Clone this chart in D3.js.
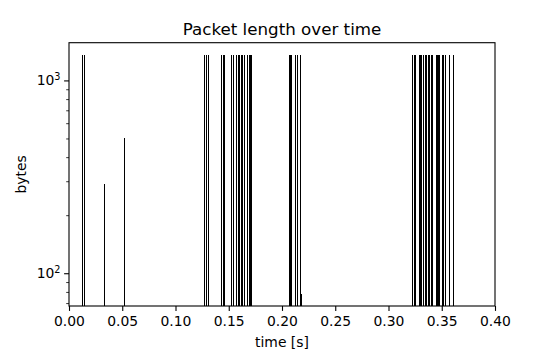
<!DOCTYPE html>
<html><head><meta charset="utf-8">
<script src="https://cdn.jsdelivr.net/npm/d3@7"></script>
<style>
body{margin:0;background:#fff;}
text{font-family:"DejaVu Sans",sans-serif;fill:#000;}
</style></head>
<body>
<svg id="chart" width="550" height="350"></svg>
<script>
const times = [0.0122,0.0141,0.0331,0.0519,
 0.1263,0.1286,0.1305,0.1427,0.1446,0.1460,
 0.1524,0.1543,0.1571,0.1584,0.1596,0.1612,0.1627,0.1646,0.1671,0.1690,0.1700,0.1709,
 0.2068,0.2077,0.2089,0.2122,0.2144,0.2169,0.2178,
 0.3224,0.3237,0.3249,0.3284,0.3296,0.3308,0.3321,0.3340,0.3352,0.3371,0.3383,0.3396,0.3411,
 0.3446,0.3455,0.3465,0.3474,0.3502,0.3516,0.3531,0.3571,0.3606];
const lengths = [1360,1360,291,505,
 1360,1360,1360,1360,1360,1360,
 1360,1360,1360,1360,1360,1360,1360,1360,1360,1360,1360,1360,
 1360,1360,1360,1360,1360,1360,78,
 1360,1360,1360,1360,1360,1360,1360,1360,1360,1360,1360,1360,1360,
 1360,1360,1360,1360,1360,1360,1360,1360,1360];
const xTicks = [0,0.05,0.10,0.15,0.20,0.25,0.30,0.35,0.40];
const yMajorTicks = [100,1000];
const yMinorTicks = [70,80,90,200,300,400,500,600,700,800,900];

const svg = d3.select("#chart");
const L=69, T=42.7, W=426, H=263.3;
const x = d3.scaleLinear().domain([0,0.4]).range([L,L+W]);
const lmin = Math.log10(d3.min(lengths)), lmax = Math.log10(d3.max(lengths));
const pad = (lmax-lmin)*0.05;
const y = d3.scaleLog().domain([Math.pow(10,lmin-pad),Math.pow(10,lmax+pad)]).range([T+H,T]);

// lines
svg.append("g").selectAll("line").data(times).join("line")
  .attr("x1",(d)=>Math.round(x(d))+0.5).attr("x2",(d)=>Math.round(x(d))+0.5)
  .attr("y1",T+H).attr("y2",(d,i)=>y(lengths[i]))
  .attr("stroke","#000").attr("stroke-width",1).attr("shape-rendering","crispEdges");

// x axis
const xa = svg.append("g").attr("transform",`translate(0,${T+H})`)
  .call(d3.axisBottom(x).tickValues(xTicks).tickFormat(d3.format(".2f")).tickSize(4.9).tickPadding(4.9));
xa.select(".domain").remove();
xa.selectAll("text").style("font-size","13.9px").style("font-family","DejaVu Sans");
xa.selectAll("line").attr("stroke-width",1.1);

// y axis major
const ya = svg.append("g").attr("transform",`translate(${L},0)`)
  .call(d3.axisLeft(y).tickValues(yMajorTicks).tickFormat("").tickSize(4.9));
ya.select(".domain").remove();
ya.selectAll("line").attr("stroke-width",1.1);
const ym = svg.append("g").attr("transform",`translate(${L},0)`)
  .call(d3.axisLeft(y).tickValues(yMinorTicks).tickFormat("").tickSize(2.8));
ym.select(".domain").remove();
ym.selectAll("line").attr("stroke-width",0.8);

// y tick labels with superscript
yMajorTicks.forEach(v=>{
  const t = svg.append("text").attr("x",L-8.5).attr("y",y(v)+5).attr("text-anchor","end")
    .style("font-size","13.9px");
  t.append("tspan").text("10");
  t.append("tspan").attr("dy",-5.5).style("font-size","9.7px").text(String(Math.round(Math.log10(v))));
});

// frame
svg.append("rect").attr("x",L).attr("y",T).attr("width",W).attr("height",H)
  .attr("fill","none").attr("stroke","#000").attr("stroke-width",1.1);

// labels
svg.append("text").attr("x",L+W/2).attr("y",34.5).attr("text-anchor","middle")
  .style("font-size","16.7px").text("Packet length over time");
svg.append("text").attr("x",L+W/2).attr("y",347).attr("text-anchor","middle")
  .style("font-size","13.9px").text("time [s]");
svg.append("text").attr("transform",`translate(26,${T+H/2}) rotate(-90)`).attr("text-anchor","middle")
  .style("font-size","13.9px").text("bytes");
</script>
</body></html>
